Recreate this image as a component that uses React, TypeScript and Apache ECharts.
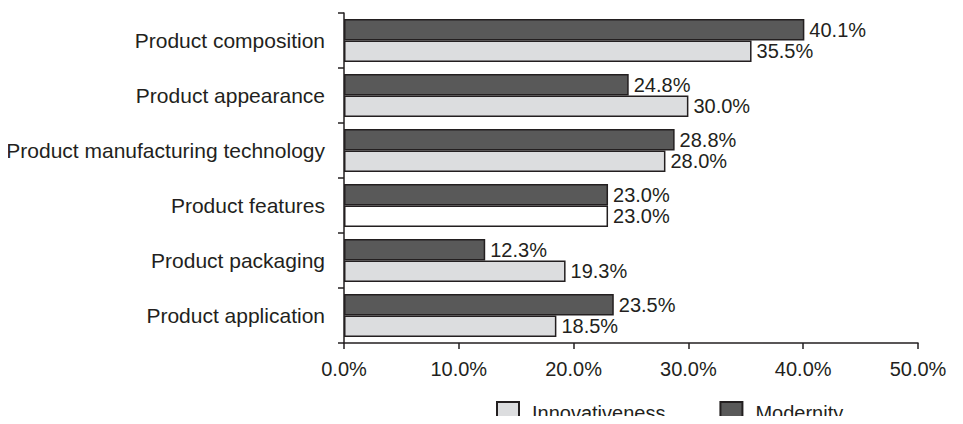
import React, { useEffect, useRef } from "react";
import * as echarts from "echarts";

const categories = [
  "Product composition",
  "Product appearance",
  "Product manufacturing technology",
  "Product features",
  "Product packaging",
  "Product application",
];
const modernity = [40.1, 24.8, 28.8, 23.0, 12.3, 23.5];
const innovativeness = [35.5, 30.0, 28.0, 23.0, 19.3, 18.5];
const xTicks = [0, 10, 20, 30, 40, 50];

const FONT = "'Liberation Sans', Arial, sans-serif";
const TXT = "#231f20";

export default function App() {
  const ref = useRef<HTMLDivElement>(null);
  useEffect(() => {
    const chart = echarts.init(ref.current!, null, { renderer: "svg" });
    const label = {
      show: true,
      position: "right",
      distance: 5,
      color: TXT,
      fontFamily: FONT,
      fontSize: 20,
      formatter: (p: any) => p.value.toFixed(1) + "%",
    };
    chart.setOption({
      animation: false,
      textStyle: { fontFamily: FONT },
      grid: { left: 344, right: 45, top: 13, bottom: 81 },
      legend: {
        left: 496,
        top: 401,
        padding: 0,
        itemWidth: 22,
        itemHeight: 21,
        itemGap: 54,
        data: ["Innovativeness", "Modernity"],
        textStyle: { fontFamily: FONT, fontSize: 20, color: TXT, padding: [0, 0, 0, 8] },
        icon: "rect",
      },
      xAxis: {
        type: "value",
        min: xTicks[0],
        max: xTicks[xTicks.length - 1],
        interval: 10,
        splitLine: { show: false },
        axisLine: { show: true, lineStyle: { color: "#231f20", width: 1.5 } },
        axisTick: { show: true, length: 6, lineStyle: { color: "#231f20", width: 1.5 } },
        axisLabel: {
          margin: 16,
          color: TXT,
          fontFamily: FONT,
          fontSize: 20,
          formatter: (v: number) => v.toFixed(1) + "%",
        },
      },
      yAxis: {
        type: "category",
        data: categories,
        inverse: true,
        axisLine: { show: true, lineStyle: { color: "#231f20", width: 1.5 } },
        axisTick: { show: true, length: 6, alignWithLabel: false, lineStyle: { color: "#231f20", width: 1.5 } },
        axisLabel: { margin: 19, color: TXT, fontFamily: FONT, fontSize: 21 },
      },
      series: [
        {
          name: "Modernity",
          type: "bar",
          data: modernity,
          barGap: "0%",
          barCategoryGap: "22%",
          itemStyle: { color: "#595959", borderColor: "#231f20", borderWidth: 1.5 },
          label,
        },
        {
          name: "Innovativeness",
          type: "bar",
          data: innovativeness.map((v, i) =>
            i === 3 ? { value: v, itemStyle: { color: "#ffffff" } } : v
          ),
          barGap: "0%",
          barCategoryGap: "22%",
          itemStyle: { color: "#dcdddf", borderColor: "#231f20", borderWidth: 1.5 },
          label,
        },
      ],
    });
    return () => chart.dispose();
  }, []);
  return <div ref={ref} style={{ width: 963, height: 424, margin: -8 }} />;
}
